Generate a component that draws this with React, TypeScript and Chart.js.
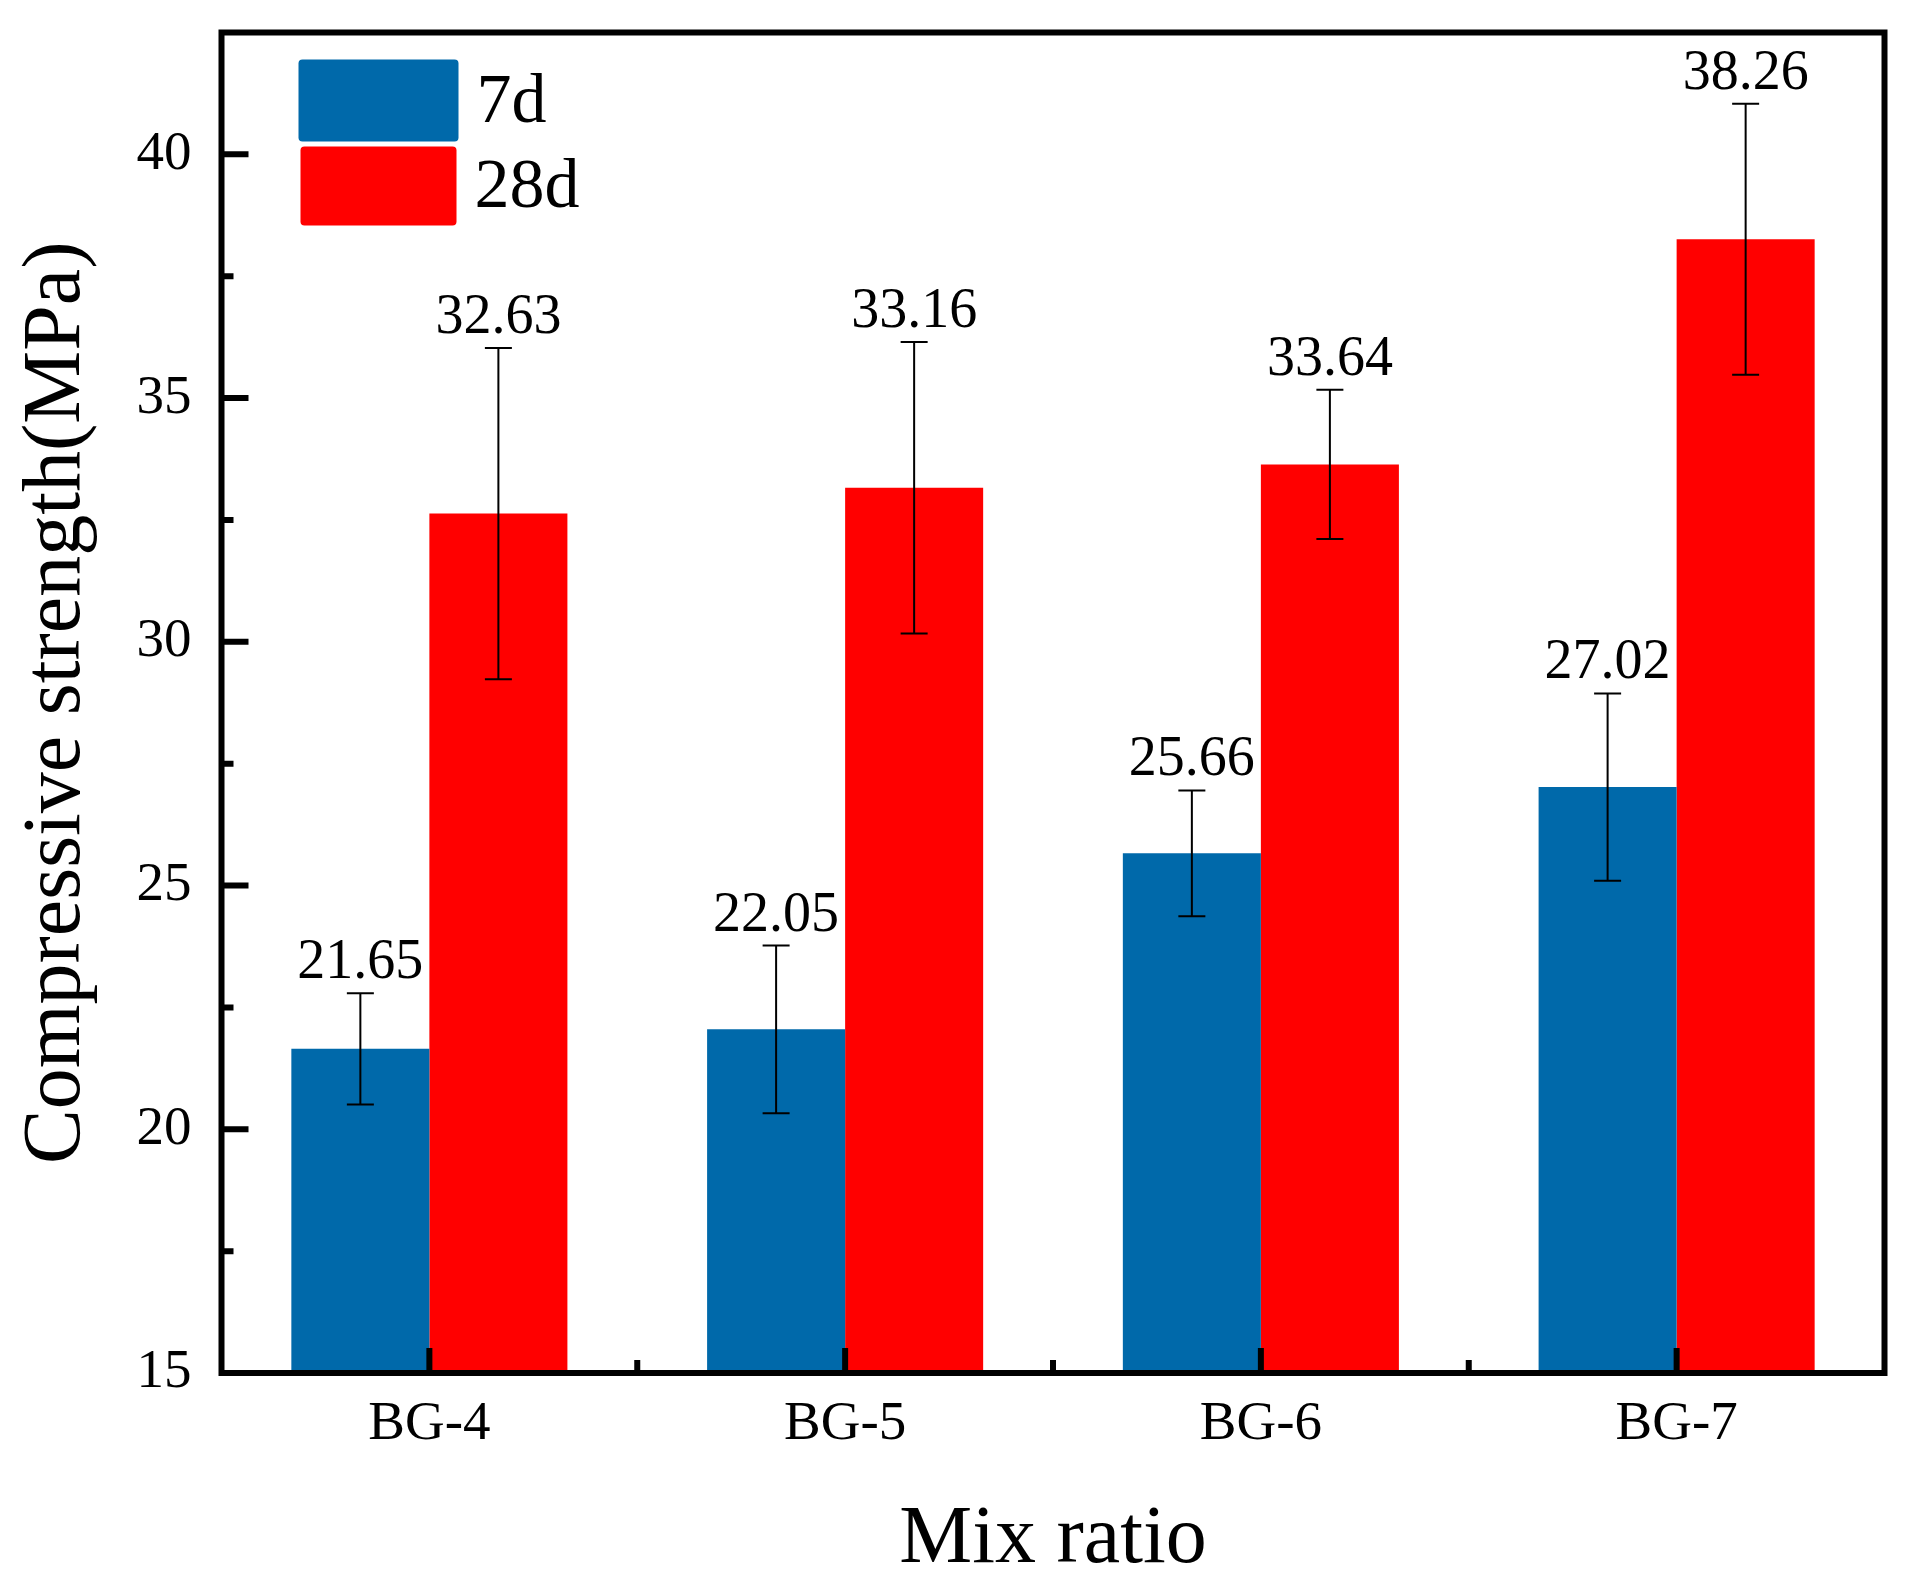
import { useEffect, useRef } from 'react'
import { Chart, registerables } from 'chart.js'

Chart.register(...registerables)

const MIXES = ['BG-4', 'BG-5', 'BG-6', 'BG-7']
const STRENGTH_7D = [21.65, 22.05, 25.66, 27.02]
const STRENGTH_28D = [32.63, 33.16, 33.64, 38.26]
const ERR_7D = [1.14, 1.72, 1.29, 1.92]
const ERR_28D = [3.4, 2.99, 1.53, 2.78]
const Y_TICKS = [15, 20, 25, 30, 35, 40]
const Y_MINOR = [17.5, 22.5, 27.5, 32.5, 37.5]

const SERIF = "'Liberation Serif', 'Times New Roman', serif"
const BLUE = '#0069AA'
const RED = '#FF0000'

// error bars, value labels, inward ticks, boxed frame and the legend
const decorPlugin = {
  id: 'decor',
  afterDatasetsDraw(chart: any) {
    const { ctx, chartArea } = chart
    const { left, right, top, bottom } = chartArea
    const yScale = chart.scales.y
    const xScale = chart.scales.x
    const errs = [ERR_7D, ERR_28D]

    ctx.save()

    // error bars
    ctx.strokeStyle = '#000'
    ctx.lineWidth = 2
    chart.data.datasets.forEach((ds: any, di: number) => {
      const meta = chart.getDatasetMeta(di)
      meta.data.forEach((bar: any, i: number) => {
        const v = ds.data[i]
        const e = errs[di][i]
        const yt = yScale.getPixelForValue(v + e)
        const yb = yScale.getPixelForValue(v - e)
        ctx.beginPath()
        ctx.moveTo(bar.x, yt)
        ctx.lineTo(bar.x, yb)
        ctx.moveTo(bar.x - 13.5, yt)
        ctx.lineTo(bar.x + 13.5, yt)
        ctx.moveTo(bar.x - 13.5, yb)
        ctx.lineTo(bar.x + 13.5, yb)
        ctx.stroke()
      })
    })

    // ticks (inward)
    ctx.lineWidth = 6
    ctx.beginPath()
    Y_TICKS.forEach((t) => {
      const y = yScale.getPixelForValue(t)
      ctx.moveTo(left, y)
      ctx.lineTo(left + 27, y)
    })
    Y_MINOR.forEach((t) => {
      const y = yScale.getPixelForValue(t)
      ctx.moveTo(left, y)
      ctx.lineTo(left + 12, y)
    })
    MIXES.forEach((_, i) => {
      const x = xScale.getPixelForValue(i)
      ctx.moveTo(x, bottom)
      ctx.lineTo(x, bottom - 25)
      if (i > 0) {
        const xm = (x + xScale.getPixelForValue(i - 1)) / 2
        ctx.moveTo(xm, bottom)
        ctx.lineTo(xm, bottom - 13)
      }
    })
    ctx.stroke()

    // frame
    ctx.strokeRect(left, top, right - left, bottom - top)

    // value labels
    ctx.fillStyle = '#000'
    ctx.font = `56px ${SERIF}`
    ctx.textAlign = 'center'
    ctx.textBaseline = 'alphabetic'
    chart.data.datasets.forEach((ds: any, di: number) => {
      const meta = chart.getDatasetMeta(di)
      meta.data.forEach((bar: any, i: number) => {
        const v = ds.data[i]
        const yt = yScale.getPixelForValue(v + errs[di][i])
        ctx.fillText(v.toFixed(2), bar.x, yt - 15)
      })
    })

    // legend
    const boxes = [
      { x: left + 77, y: top + 27, w: 160, h: 82 },
      { x: left + 79, y: top + 114, w: 156, h: 79 },
    ]
    ctx.font = `70px ${SERIF}`
    ctx.textAlign = 'left'
    ctx.textBaseline = 'middle'
    chart.data.datasets.forEach((ds: any, di: number) => {
      const b = boxes[di]
      ctx.fillStyle = ds.backgroundColor
      ctx.beginPath()
      ctx.roundRect(b.x, b.y, b.w, b.h, 4)
      ctx.fill()
      ctx.fillStyle = '#000'
      ctx.fillText(ds.label, b.x + b.w + 18, b.y + b.h / 2 + 3)
    })

    ctx.restore()
  },
}

export default function App() {
  const canvasRef = useRef<HTMLCanvasElement>(null)
  const chartRef = useRef<Chart | null>(null)

  useEffect(() => {
    if (!canvasRef.current) return
    if (chartRef.current) chartRef.current.destroy()

    chartRef.current = new Chart(canvasRef.current, {
      type: 'bar',
      data: {
        labels: MIXES,
        datasets: [
          {
            label: '7d',
            data: STRENGTH_7D,
            backgroundColor: BLUE,
            borderWidth: 0,
            categoryPercentage: 0.664,
            barPercentage: 1,
          },
          {
            label: '28d',
            data: STRENGTH_28D,
            backgroundColor: RED,
            borderWidth: 0,
            categoryPercentage: 0.664,
            barPercentage: 1,
          },
        ],
      },
      plugins: [decorPlugin],
      options: {
        responsive: true,
        maintainAspectRatio: false,
        animation: false,
        layout: { padding: { top: 32.5, right: 24.5, left: 0, bottom: 0 } },
        plugins: {
          legend: { display: false },
          tooltip: { enabled: false },
        },
        scales: {
          x: {
            grid: { display: false, drawTicks: false },
            border: { display: false },
            ticks: {
              font: { family: SERIF, size: 55 },
              color: '#000',
              padding: 19,
            },
            title: {
              display: true,
              text: 'Mix ratio',
              color: '#000',
              font: { family: SERIF, size: 82, lineHeight: 1 },
              padding: { top: 0, bottom: 2 },
            },
            afterFit: (s: any) => {
              s.height = 210
              s.paddingLeft = 0
              s.paddingRight = 0
            },
          },
          y: {
            min: 15,
            max: 42.5,
            grid: { display: false, drawTicks: false },
            border: { display: false },
            ticks: {
              font: { family: SERIF, size: 55 },
              color: '#000',
              padding: 30,
            },
            afterBuildTicks: (s: any) => {
              s.ticks = Y_TICKS.map((v) => ({ value: v }))
            },
            title: {
              display: true,
              text: 'Compressive strength(MPa)',
              color: '#000',
              font: { family: SERIF, size: 82, lineHeight: 1 },
              padding: { top: 16, bottom: 0 },
            },
            afterFit: (s: any) => {
              s.width = 221.5
              s.paddingTop = 0
              s.paddingBottom = 0
            },
          },
        },
      },
    })

    return () => {
      if (chartRef.current) {
        chartRef.current.destroy()
        chartRef.current = null
      }
    }
  }, [])

  return (
    <div
      style={{
        position: 'fixed',
        left: 0,
        top: 0,
        width: 1909,
        height: 1583,
        background: '#fff',
      }}
    >
      <canvas ref={canvasRef} />
    </div>
  )
}
